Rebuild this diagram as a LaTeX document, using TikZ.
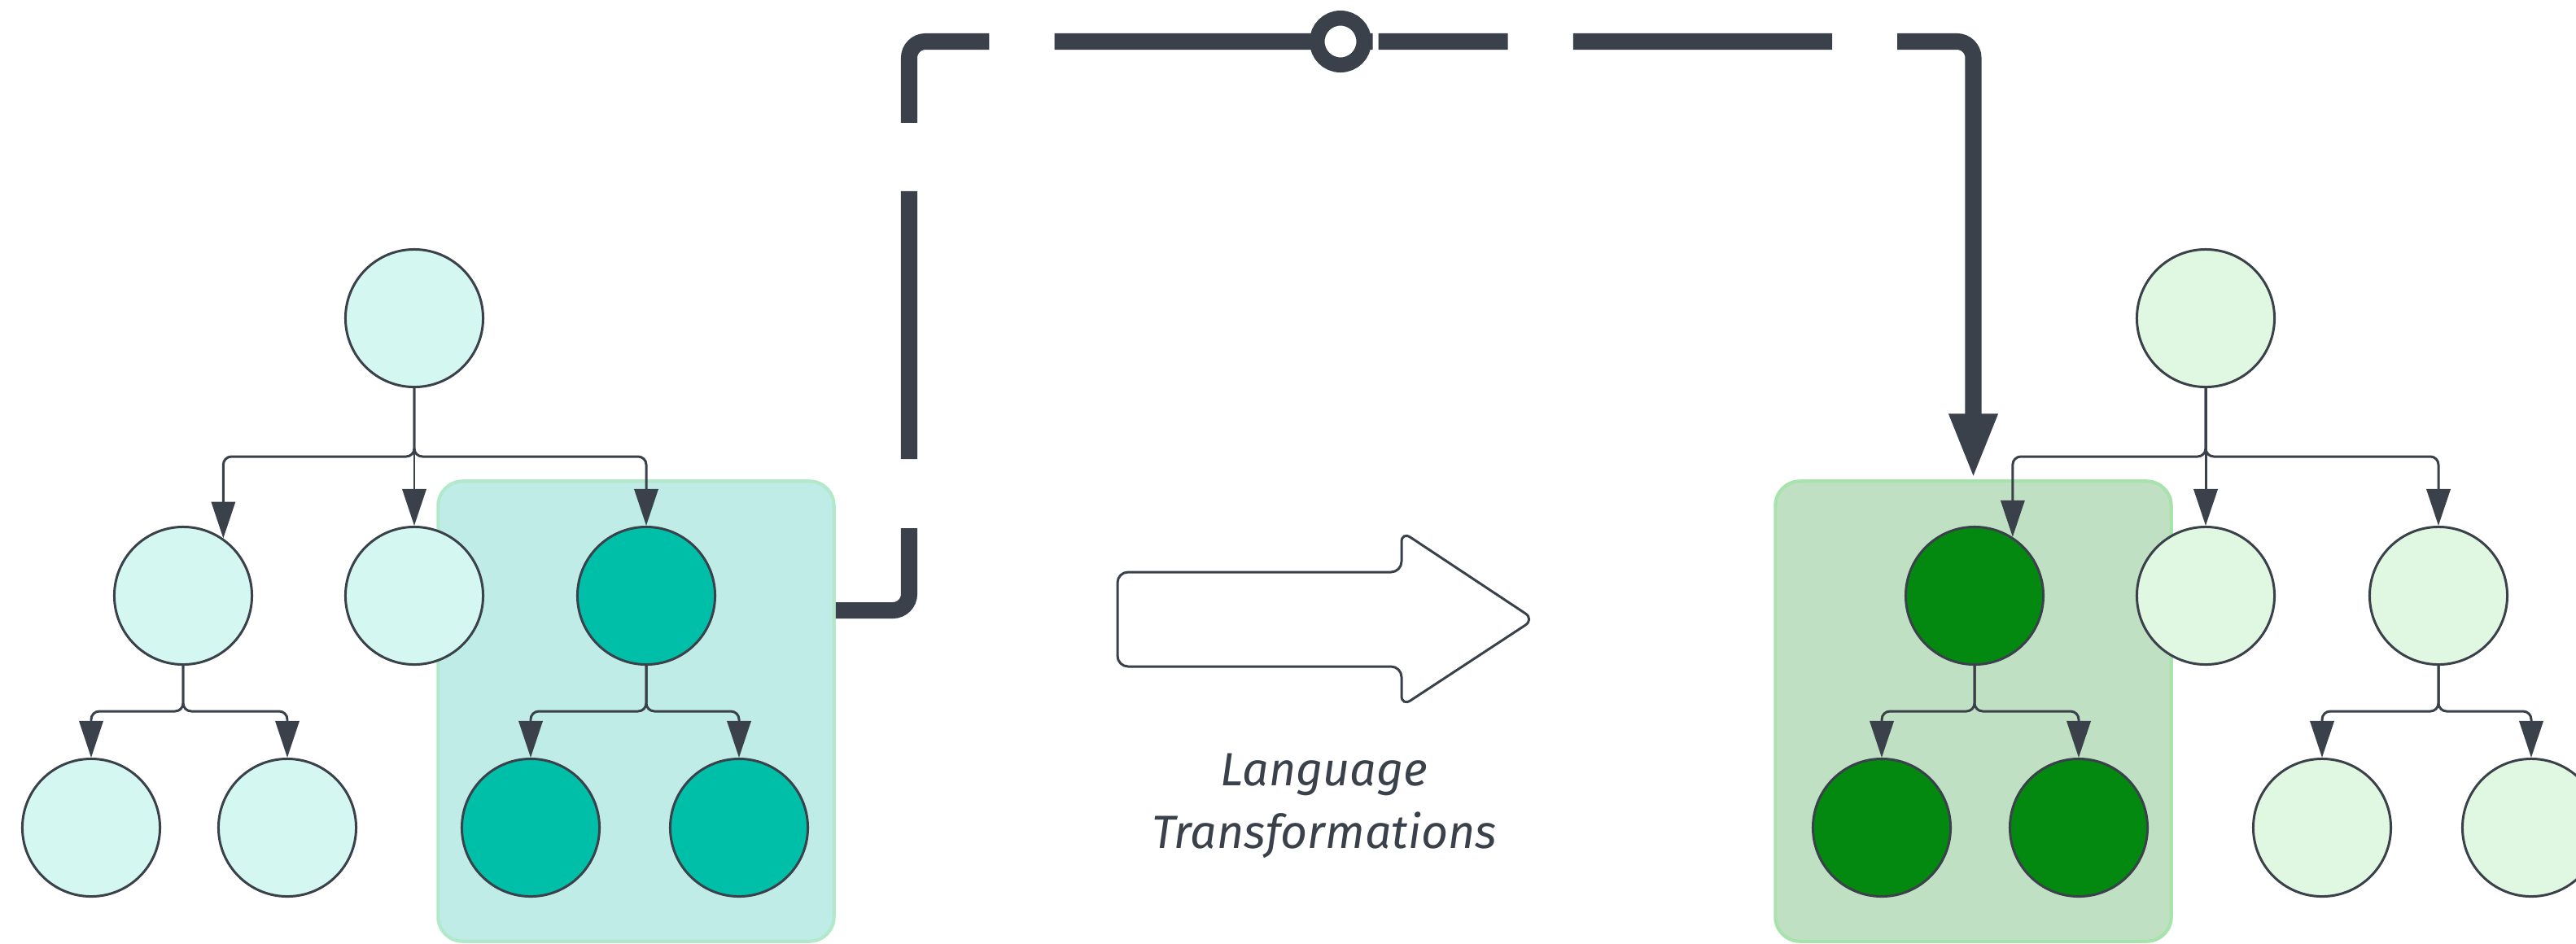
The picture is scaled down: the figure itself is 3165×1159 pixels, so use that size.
\documentclass[tikz,border=0pt]{standalone}
\usepackage{fontspec}
\setmainfont{Fira Sans}
\usetikzlibrary{arrows.meta}
\definecolor{ink}{HTML}{3A414A}
\definecolor{mintfill}{HTML}{D5F7F1}
\definecolor{tealfill}{HTML}{00BFA8}
\definecolor{tealbox}{HTML}{BFECE6}
\definecolor{tealboxline}{HTML}{B2E9CB}
\definecolor{palegreen}{HTML}{E0F8E2}
\definecolor{deepgreen}{HTML}{038810}
\definecolor{greenbox}{HTML}{C0E0C3}
\definecolor{greenboxline}{HTML}{A8E3AE}

\begin{document}
\begin{tikzpicture}[x=0.01cm, y=-0.01cm,
  treenode/.style={circle, draw=ink, line width=0.85pt, minimum size=1.69cm, inner sep=0pt},
  edge/.style={draw=ink, line width=0.85pt, rounded corners=0.1cm,
    -{Triangle[width=8.3pt,length=12.8pt]}},
  region/.style={rounded corners=0.3cm, line width=1.2pt, inner sep=0pt,
    minimum width=4.86cm, minimum height=5.65cm},
  link/.style={draw=ink, line width=5.7pt, rounded corners=0.2cm,
    -{Triangle[width=15.4pt,length=23pt]}},
  bigarrow/.style={draw=ink, fill=white, line width=0.85pt, rounded corners=0.13cm}
]
\useasboundingbox (0,0) rectangle (3165,1159);

% rows used by the connectors
\coordinate (busA) at (0,561);
\coordinate (busB) at (0,874);
\coordinate (linkrow) at (0,750);
\coordinate (toprow) at (0,51);

% highlighted sub-tree regions
\node[region, fill=tealbox, draw=tealboxline] (lbox) at (781.5,874) {};
\node[region, fill=greenbox, draw=greenboxline] (rbox) at (2424.5,874) {};

% left tree
\node[treenode, fill=mintfill] (lr)  at (509,391) {};
\node[treenode, fill=mintfill] (l1)  at (225,732) {};
\node[treenode, fill=mintfill] (l2)  at (509,732) {};
\node[treenode, fill=tealfill] (l3)  at (794,732) {};
\node[treenode, fill=mintfill] (l11) at (112,1017) {};
\node[treenode, fill=mintfill] (l12) at (353,1017) {};
\node[treenode, fill=tealfill] (l31) at (652,1017) {};
\node[treenode, fill=tealfill] (l32) at (908,1017) {};

% right tree
\node[treenode, fill=palegreen] (rr)  at (2710,391) {};
\node[treenode, fill=deepgreen] (r1)  at (2426,732) {};
\node[treenode, fill=palegreen] (r2)  at (2710,732) {};
\node[treenode, fill=palegreen] (r3)  at (2996,732) {};
\node[treenode, fill=deepgreen] (r11) at (2312,1017) {};
\node[treenode, fill=deepgreen] (r12) at (2554,1017) {};
\node[treenode, fill=palegreen] (r31) at (2853,1017) {};
\node[treenode, fill=palegreen] (r32) at (3110,1017) {};

% left tree edges
\draw[edge] (lr.south) |- (busA -| l1.55) -- (l1.55);
\draw[edge] (lr.south) -- (l2.north);
\draw[edge] (lr.south) |- (busA -| l3.north) -- (l3.north);
\draw[edge] (l1.south) |- (busB -| l11.north) -- (l11.north);
\draw[edge] (l1.south) |- (busB -| l12.north) -- (l12.north);
\draw[edge] (l3.south) |- (busB -| l31.north) -- (l31.north);
\draw[edge] (l3.south) |- (busB -| l32.north) -- (l32.north);

% right tree edges
\draw[edge] (rr.south) |- (busA -| r1.57) -- (r1.57);
\draw[edge] (rr.south) -- (r2.north);
\draw[edge] (rr.south) |- (busA -| r3.north) -- (r3.north);
\draw[edge] (r1.south) |- (busB -| r11.north) -- (r11.north);
\draw[edge] (r1.south) |- (busB -| r12.north) -- (r12.north);
\draw[edge] (r3.south) |- (busB -| r31.north) -- (r31.north);
\draw[edge] (r3.south) |- (busB -| r32.north) -- (r32.north);

% transformation arrow and its caption
\draw[bigarrow] (1373,703) -- (1722,703) -- (1722,653) -- (1885,761)
  -- (1722,868) -- (1722,819) -- (1373,819) -- cycle;
\node[text=ink, font=\itshape\fontsize{16.3pt}{21.9pt}\selectfont, align=center]
  (caption) at (1627,990) {Language\\Transformations};

% mapping link from the left sub-tree to the right sub-tree
\coordinate (lsrc) at (lbox.east |- linkrow);
\draw[link, dash pattern=on 51.9pt off 24.2pt on 93.6pt off 23.9pt on 53.9pt off 22.8pt
  on 111.2pt off 2pt on 45.2pt off 22.8pt on 90.5pt off 22.8pt on 200pt off 1pt]
  (lsrc) -- (1117,750) |- (rbox.north |- toprow) -- (rbox.north);
\node[circle, draw=ink, fill=white, line width=5.26pt, minimum size=0.575cm, inner sep=0pt]
  (ring) at (1647,51) {};
\end{tikzpicture}
\end{document}
